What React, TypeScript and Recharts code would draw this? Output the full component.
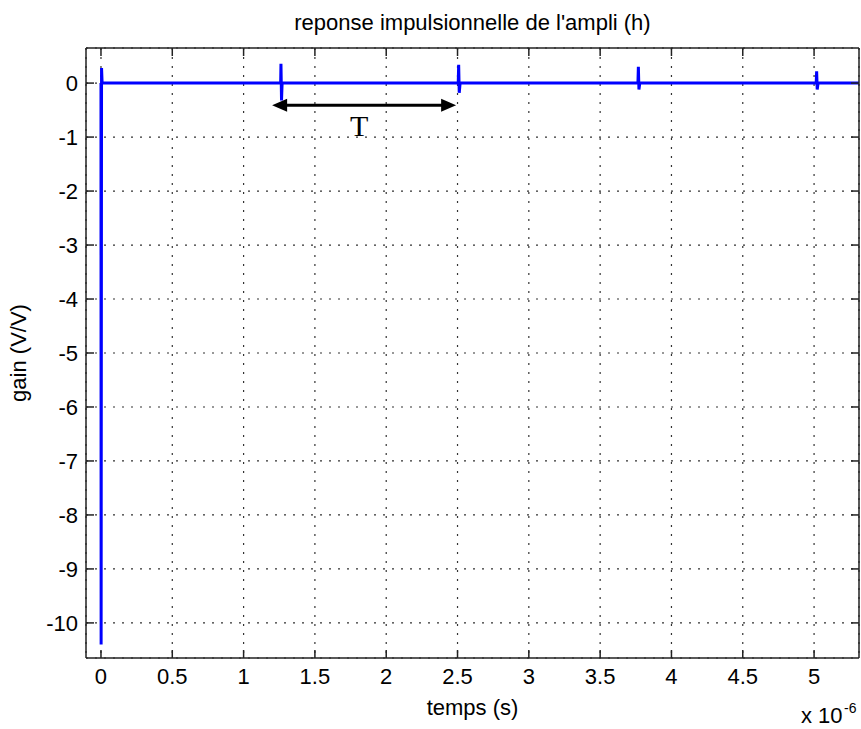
import { LineChart, Line, XAxis, YAxis, CartesianGrid, ReferenceLine } from 'recharts';

// time in microseconds (axis multiplier x 10^-6), gain in V/V
const timeUs = [0, 0.001, 0.004, 0.008, 1.26, 1.262, 1.266, 1.27, 2.505, 2.508, 2.512, 2.518, 3.765, 3.768, 3.772, 3.778, 5.015, 5.018, 5.022, 5.028, 5.315];
const gain = [0, -10.4, 0.28, 0, 0, 0.36, -0.32, 0, 0, 0.34, -0.18, 0, 0, 0.3, -0.12, 0, 0, 0.22, -0.12, 0, 0];

const xTicks = [0, 0.5, 1, 1.5, 2, 2.5, 3, 3.5, 4, 4.5, 5];
const yTicks = [-10, -9, -8, -7, -6, -5, -4, -3, -2, -1, 0];

// period marker (T) between two echoes
const periodStart = 1.2;
const periodEnd = 2.49;
const periodLevel = -0.41;

const data = timeUs.map((t, i) => ({ t, g: gain[i] }));

const FONT = '"Liberation Sans", Arial, sans-serif';
const tickStyle = { fill: '#000', fontSize: 22, fontFamily: FONT };
const frame = { stroke: '#222', strokeWidth: 1.5 };

const PeriodArrow = (props: any) => {
  const { x1, y1, x2, y2 } = props;
  const head = 15;
  const half = 6.5;
  return (
    <g>
      <line x1={x1 + head - 2} y1={y1} x2={x2 - head + 2} y2={y2} stroke="#000" strokeWidth={3} />
      <polygon points={`${x1},${y1} ${x1 + head},${y1 - half} ${x1 + head},${y1 + half}`} fill="#000" />
      <polygon points={`${x2},${y2} ${x2 - head},${y2 - half} ${x2 - head},${y2 + half}`} fill="#000" />
      <text
        x={(x1 + x2) / 2 - 5}
        y={y1 + 31}
        textAnchor="middle"
        fontFamily='"Liberation Serif", "Times New Roman", serif'
        fontSize={30}
        fill="#000"
      >
        T
      </text>
    </g>
  );
};

export default function App() {
  return (
    <div style={{ position: 'absolute', left: 0, top: 0, width: 861, height: 729, background: '#fff' }}>
      <LineChart width={861} height={729} data={data} margin={{ top: 47, right: 1, bottom: 0, left: 0 }}>
        <CartesianGrid xAxisId="b" yAxisId="l" stroke="#333" strokeDasharray="2 7" strokeWidth={1.2} />
        <XAxis
          xAxisId="b"
          dataKey="t"
          type="number"
          orientation="bottom"
          domain={[-0.105, 5.315]}
          allowDataOverflow
          ticks={xTicks}
          height={71}
          tickSize={-8}
          tickMargin={18}
          tick={tickStyle}
          tickLine={frame}
          axisLine={frame}
          label={{ value: 'temps (s)', position: 'insideBottom', offset: 14, fill: '#000', fontSize: 22, fontFamily: FONT }}
        />
        <XAxis
          xAxisId="t"
          dataKey="t"
          type="number"
          orientation="top"
          domain={[-0.105, 5.315]}
          allowDataOverflow
          ticks={xTicks}
          height={1}
          tickSize={-8}
          tickFormatter={() => ''}
          tickLine={frame}
          axisLine={frame}
          label={{ value: "reponse impulsionnelle de l'ampli (h)", position: 'top', offset: 17, fill: '#000', fontSize: 22, fontFamily: FONT }}
        />
        <YAxis
          yAxisId="l"
          type="number"
          orientation="left"
          domain={[-10.65, 0.65]}
          allowDataOverflow
          ticks={yTicks}
          width={86}
          tickSize={-8}
          tickMargin={16}
          tick={tickStyle}
          tickLine={frame}
          axisLine={frame}
          label={{ value: 'gain (V/V)', angle: -90, position: 'insideLeft', offset: 18, fill: '#000', fontSize: 22, fontFamily: FONT, style: { textAnchor: 'middle' } }}
        />
        <YAxis
          yAxisId="r"
          type="number"
          orientation="right"
          domain={[-10.65, 0.65]}
          allowDataOverflow
          ticks={yTicks}
          width={1}
          tickSize={-8}
          tickFormatter={() => ''}
          tickLine={frame}
          axisLine={frame}
        />
        <Line
          xAxisId="b"
          yAxisId="l"
          type="linear"
          dataKey="g"
          stroke="#0000ff"
          strokeWidth={3}
          dot={false}
          isAnimationActive={false}
        />
        <ReferenceLine
          xAxisId="b"
          yAxisId="l"
          segment={[{ x: periodStart, y: periodLevel }, { x: periodEnd, y: periodLevel }]}
          shape={PeriodArrow}
        />
      </LineChart>
      <svg width={861} height={729} style={{ position: 'absolute', left: 0, top: 0, pointerEvents: 'none' }}>
        <text x={801} y={723} fontFamily={FONT} fontSize={22} fill="#000">x 10</text>
        <text x={844} y={713} fontFamily={FONT} fontSize={14} fill="#000">-6</text>
      </svg>
    </div>
  );
}
